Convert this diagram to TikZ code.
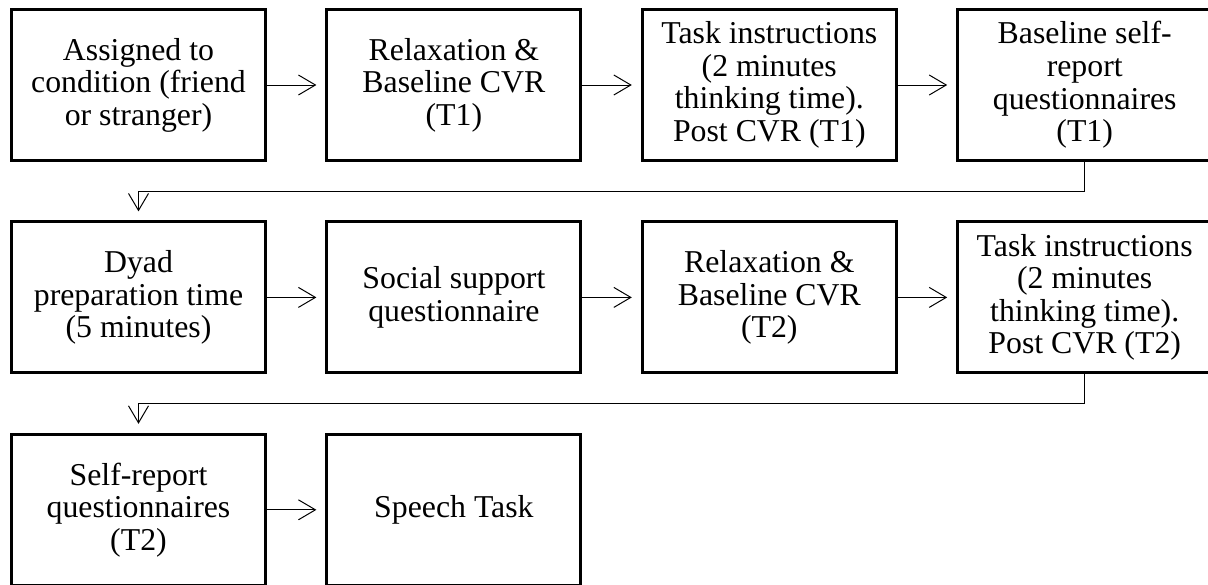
\documentclass[tikz,border=0pt]{standalone}
\usepackage{fontspec}
\setmainfont{Liberation Serif}
\usetikzlibrary{positioning}
\usetikzlibrary{arrows.meta}
\tikzstyle{stage}=[draw, line width=1.5pt, minimum width=127pt, minimum height=75.5pt, align=center, inner sep=2pt, font=\fontsize{15.9}{16.3}\selectfont]
\tikzstyle{flow}=[line width=0.5pt, -{Straight Barb[length=8.5pt, width=10pt]}, shorten >=4.5pt]

\begin{document}
\begin{tikzpicture}[node distance=29.2pt]
      \useasboundingbox (0,0) rectangle (604pt,-292pt);
      \clip (0,0) rectangle (604pt,-292pt);
      \node[stage] (a1) at (69.25pt,-42.5pt) {Assigned to\\condition (friend\\or stranger)};
      \node[stage, right=of a1] (a2) {Relaxation \&\\Baseline CVR\\(T1)};
      \node[stage, right=of a2] (a3) {Task instructions\\(2 minutes\\thinking time).\\Post CVR (T1)};
      \node[stage, right=of a3] (a4) {Baseline self-\\report\\questionnaires\\(T1)};
      \node[stage, below=of a1] (b1) {Dyad\\preparation time\\(5 minutes)};
      \node[stage, right=of b1] (b2) {Social support\\questionnaire};
      \node[stage, right=of b2] (b3) {Relaxation \&\\Baseline CVR\\(T2)};
      \node[stage, right=of b3] (b4) {Task instructions\\(2 minutes\\thinking time).\\Post CVR (T2)};
      \node[stage, below=of b1] (c1) {Self-report\\questionnaires\\(T2)};
      \node[stage, right=of c1] (c2) {Speech Task};
      \draw[flow] (a1) -- (a2);
      \draw[flow] (a2) -- (a3);
      \draw[flow] (a3) -- (a4);
      \draw[flow] (a4.south) -- ++(0,-14.5pt) -| (b1.north);
      \draw[flow] (b1) -- (b2);
      \draw[flow] (b2) -- (b3);
      \draw[flow] (b3) -- (b4);
      \draw[flow] (b4.south) -- ++(0,-14.5pt) -| (c1.north);
      \draw[flow] (c1) -- (c2);
    \end{tikzpicture}
\end{document}
